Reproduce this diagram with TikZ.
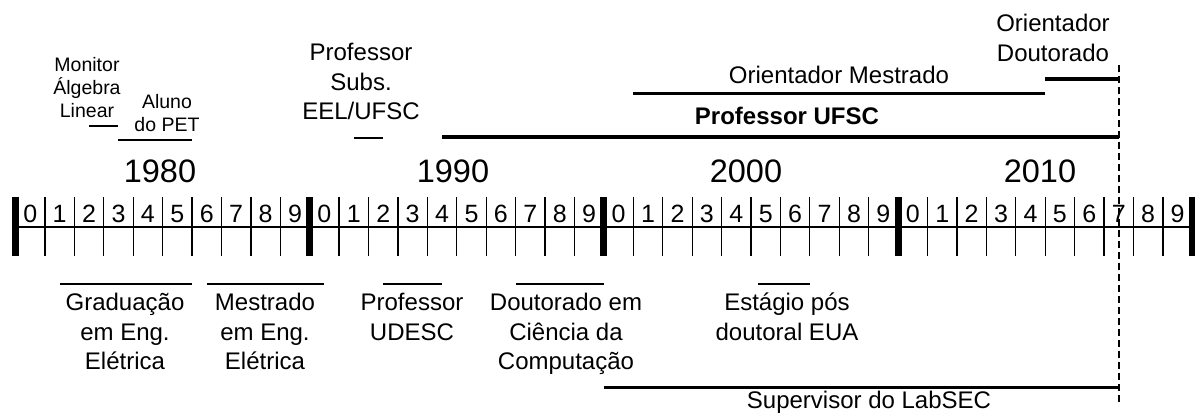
\documentclass[tikz,border=0pt]{standalone}
\usepackage{fontspec}
\setmainfont{Liberation Sans}
% horizontal position of a year, counted from 1980
\newcommand\yrx[1]{{15.5+29.42*(#1)}}
% multi-line labels are placed by the baseline of their last line
\tikzset{
  lbl/.style={font=\fontsize{24}{29.6}\selectfont, inner sep=0pt, align=center, anchor=base},
  smalllbl/.style={font=\fontsize{19.5}{23}\selectfont, inner sep=0pt, align=center, anchor=base},
  yearlbl/.style={font=\fontsize{32.5}{38}\selectfont, inner sep=0pt, anchor=base},
  digitlbl/.style={font=\fontsize{25}{30}\selectfont, inner sep=0pt, anchor=base},
  periodthick/.style={line width=3.2pt},
  periodthin/.style={line width=1.2pt},
  yeartick/.style={line width=1.3pt},
  decadebar/.style={line width=7pt},
  axisline/.style={line width=1.5pt},
  todayline/.style={line width=1.5pt, dash pattern=on 7pt off 4pt}
}
\begin{document}
\begin{tikzpicture}[x=1pt, y=-1pt]
\useasboundingbox (0,0) rectangle (1195,419);

% ruler: year ticks, decade bars, axis
\foreach \i in {0,...,40}{
  \draw[yeartick] (\yrx{\i},197) -- (\yrx{\i},256);
}
\foreach \i in {0,10,20,30,40}{
  \draw[decadebar] (\yrx{\i},197) -- (\yrx{\i},256);
}
\coordinate (axL) at (\yrx{0},227);
\coordinate (axR) at (\yrx{40},227);
\draw[axisline] (axL) -- (axR);
\foreach \i in {0,...,39}{
  \pgfmathtruncatemacro\d{mod(\i,10)}
  \node[digitlbl] (d\i) at (\yrx{\i+0.5},223) {\d};
}

% decades
\node[yearlbl] (y1980) at (160,183) {1980};
\node[yearlbl] (y1990) at (453,183) {1990};
\node[yearlbl] (y2000) at (746,183) {2000};
\node[yearlbl] (y2010) at (1040,183) {2010};

% present day
\coordinate (nowT) at (\yrx{37.5},65);
\coordinate (nowB) at (\yrx{37.5},402);
\draw[todayline] (nowT) -- (nowB);

% periods above the ruler
\node[smalllbl] (monitor) at (87,118) {Monitor\\Álgebra\\Linear};
\coordinate (monS) at (\yrx{2.5},126);
\coordinate (monE) at (\yrx{3.5},126);
\draw[periodthin] (monS) -- (monE);

\node[smalllbl] (pet) at (167,132) {Aluno\\do PET};
\coordinate (petS) at (\yrx{3.5},140);
\coordinate (petE) at (\yrx{6},140);
\draw[periodthin] (petS) -- (petE);

\node[lbl] (subs) at (361,120) {Professor\\Subs.\\EEL/UFSC};
\coordinate (subsS) at (\yrx{11.5},138);
\coordinate (subsE) at (\yrx{12.5},138);
\draw[periodthin] (subsS) -- (subsE);

\node[lbl] (ufsc) at (787,125) {\textbf{Professor UFSC}};
\coordinate (ufscS) at (\yrx{14.5},137);
\coordinate (ufscE) at (\yrx{37.5},137);
\draw[periodthick] (ufscS) -- (ufscE);

\node[lbl] (omest) at (839,83.3) {Orientador Mestrado};
\coordinate (omestS) at (\yrx{21},93.5);
\coordinate (omestE) at (\yrx{35},93.5);
\draw[periodthick] (omestS) -- (omestE);

\node[lbl] (odout) at (1053,61.3) {Orientador\\Doutorado};
\coordinate (odoutS) at (\yrx{35},79);
\coordinate (odoutE) at (\yrx{37.5},79);
\draw[periodthick] (odoutS) -- (odoutE);

% periods below the ruler
\node[lbl] (grad) at (125,370) {Graduação\\em Eng.\\Elétrica};
\coordinate (gradS) at (\yrx{1.5},284);
\coordinate (gradE) at (\yrx{6},284);
\draw[periodthin] (gradS) -- (gradE);

\node[lbl] (mest) at (265,370) {Mestrado\\em Eng.\\Elétrica};
\coordinate (mestS) at (\yrx{6.5},284);
\coordinate (mestE) at (\yrx{10.5},284);
\draw[periodthin] (mestS) -- (mestE);

\node[lbl] (udesc) at (412,340.5) {Professor\\UDESC};
\coordinate (udescS) at (\yrx{12.5},284);
\coordinate (udescE) at (\yrx{14.5},284);
\draw[periodthin] (udescS) -- (udescE);

\node[lbl] (dout) at (566,370) {Doutorado em\\Ciência da\\Computação};
\coordinate (doutS) at (\yrx{17},284);
\coordinate (doutE) at (\yrx{20},284);
\draw[periodthin] (doutS) -- (doutE);

\node[lbl] (pos) at (787,340.5) {Estágio pós\\doutoral EUA};
\coordinate (posS) at (\yrx{25.25},284);
\coordinate (posE) at (\yrx{27},284);
\draw[periodthin] (posS) -- (posE);

\node[lbl] (labsec) at (869,409) {Supervisor do LabSEC};
\coordinate (labS) at (\yrx{20},387.5);
\coordinate (labE) at (\yrx{37.5},387.5);
\draw[periodthick] (labS) -- (labE);
\end{tikzpicture}
\end{document}
